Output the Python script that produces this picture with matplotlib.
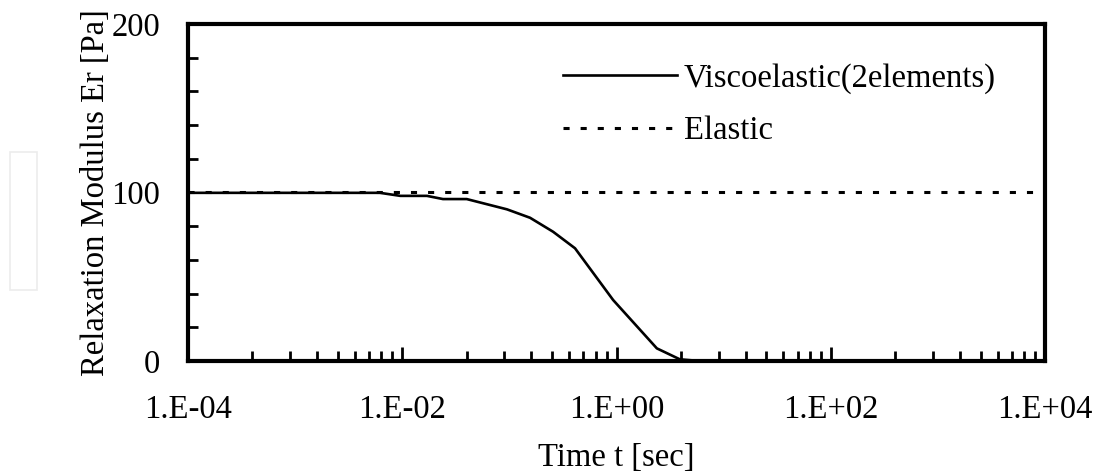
import numpy as np
import matplotlib.pyplot as plt
from matplotlib.patches import Rectangle

plt.rcParams['font.family'] = ['Liberation Serif', 'DejaVu Serif']
plt.rcParams['font.size'] = 23.5

# relaxation modulus, two-element viscoelastic model
t_visco = [1e-4, 1e-3, 0.0062, 0.0096, 0.017, 0.024, 0.040, 0.095, 0.156,
           0.256, 0.41, 0.93, 2.38, 3.9, 6.0, 1e2, 1e4]
er_visco = [99.8, 99.8, 99.8, 98.0, 98.0, 96.1, 96.1, 90.0, 85.0,
            76.7, 66.9, 36.2, 7.5, 1.0, 0.0, 0.0, 0.0]

# elastic model: constant modulus
t_elastic = [1e-4, 1e4]
er_elastic = [100, 100]

x_major = [1e-4, 1e-2, 1e0, 1e2, 1e4]
x_labels = ['1.E-04', '1.E-02', '1.E+00', '1.E+02', '1.E+04']

fig = plt.figure(figsize=(10.96, 4.75), dpi=100)
ax = fig.add_axes([0.1715, 0.24, 0.782, 0.7095])

ax.plot(t_visco, er_visco, color='black', lw=1.9, label='Viscoelastic(2elements)')
ax.plot(t_elastic, er_elastic, color='black', lw=2.2, dashes=(2, 3.6),
        dash_capstyle='butt', label='Elastic')

ax.set_xscale('log')
ax.set_xlim(1e-4, 1e4)
ax.set_ylim(0, 200)

# base-100 style axis: minor ticks at major * k^2
minor = [m * k ** 2 for m in x_major[:-1] for k in range(2, 10)]
ax.set_xticks(x_major)
ax.set_xticklabels(x_labels)
ax.set_xticks(minor, minor=True)
ax.set_xticklabels([], minor=True)
ax.set_yticks([0, 100, 200])
ax.set_yticks(np.arange(20, 200, 20), minor=True)

ax.tick_params(which='both', direction='in', width=2, color='black')
ax.tick_params(axis='x', which='major', length=10, pad=24)
ax.tick_params(axis='x', which='minor', length=7)
ax.tick_params(axis='y', which='major', length=0, pad=20)
ax.tick_params(axis='y', which='minor', length=7)

for s in ax.spines.values():
    s.set_linewidth(3)

ax.set_xlabel('Time t [sec]', labelpad=13)
ax.set_ylabel('Relaxation Modulus Er [Pa]', labelpad=0)

ax.legend(loc='upper left', bbox_to_anchor=(0.437, 0.885), frameon=False,
          borderpad=0, borderaxespad=0, handlelength=3.5, handletextpad=0.22,
          labelspacing=0.68)

# faint frame at the left margin
fig.patches.append(Rectangle((10 / 1096, 1 - 290 / 475), 27 / 1096, 138 / 475,
                             transform=fig.transFigure, fill=False,
                             edgecolor='#ececec', lw=1.2))

fig.savefig('out.png', dpi=100)
